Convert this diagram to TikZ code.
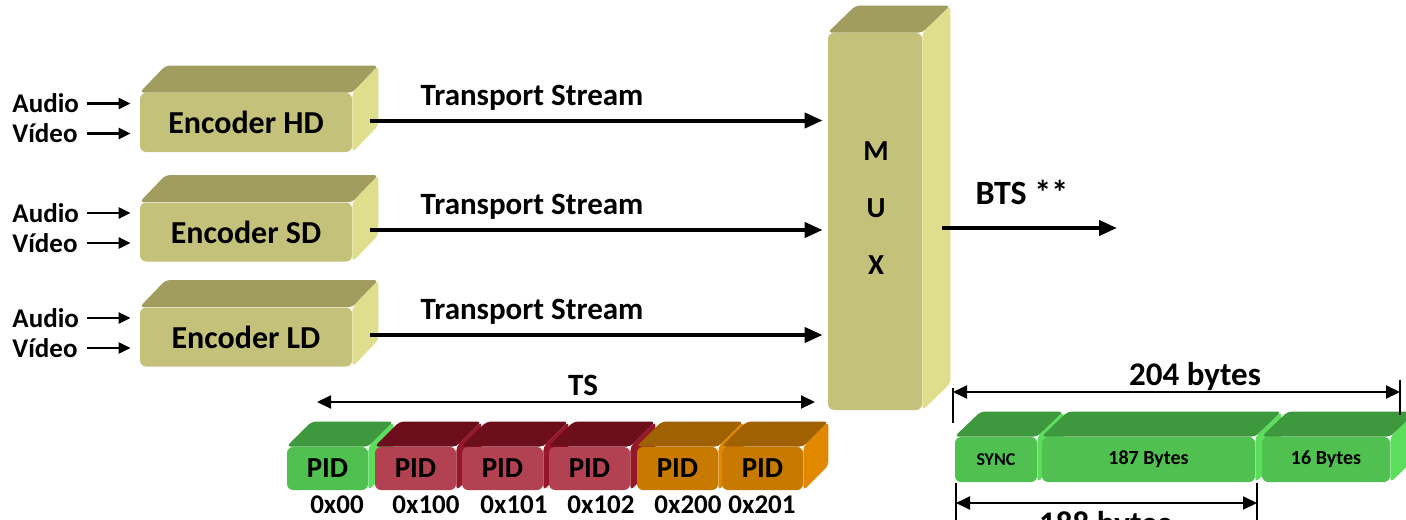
\documentclass[tikz,border=0pt]{standalone}
\usepackage{fontspec}
\setmainfont{Carlito}
\usetikzlibrary{arrows.meta,positioning}

\definecolor{encF}{RGB}{196,194,122}
\definecolor{encT}{RGB}{160,157,95}
\definecolor{encS}{RGB}{223,222,140}
\definecolor{grnF}{RGB}{80,192,80}
\definecolor{grnT}{RGB}{62,152,62}
\definecolor{grnS}{RGB}{92,222,92}
\definecolor{redF}{RGB}{178,66,82}
\definecolor{redT}{RGB}{108,14,28}
\definecolor{redS}{RGB}{150,22,42}
\definecolor{orgF}{RGB}{200,122,0}
\definecolor{orgT}{RGB}{160,98,0}
\definecolor{orgS}{RGB}{226,136,0}

% top and right faces of a box, #1 node, #2 depth, #3 top colour, #4 side colour
\newcommand\sides[4]{%
  \fill[#3, rounded corners=2pt] (#1.north west) -- ([shift={#2}]#1.north west)
    -- ([shift={#2}]#1.north east) -- (#1.north east) -- cycle;
  \fill[#4, rounded corners=2pt] (#1.north east) -- ([shift={#2}]#1.north east)
    -- ([shift={#2}]#1.south east) -- (#1.south east) -- cycle;
}

\tikzset{
  front/.style={rounded corners=3pt, inner sep=0pt},
  encbox/.style={front, fill=encF, minimum width=106pt, minimum height=29.5pt,
    font=\fontsize{16}{19}\bfseries},
  pidbox/.style={front, minimum width=40.5pt, minimum height=21.5pt,
    font=\fontsize{14.5}{16}\bfseries},
  pkbox/.style={front, fill=grnF, minimum height=22.5pt,
    font=\fontsize{10}{12}\bfseries},
  inlbl/.style={inner sep=0pt, anchor=west, font=\fontsize{13.5}{16}\bfseries},
  lbl/.style={inner sep=0pt, font=\fontsize{15.5}{18}\bfseries},
  hexlbl/.style={inner sep=0pt, font=\fontsize{13.5}{15}\bfseries},
  inarrow/.style={line width=1.2pt, -{Triangle[length=6pt,width=5.5pt]}},
  tsarrow/.style={line width=2pt, -{Triangle[length=9pt,width=7.5pt]}},
  dimarrow/.style={line width=1pt, {Triangle[length=7pt,width=6.5pt]}-{Triangle[length=7pt,width=6.5pt]}},
  tick/.style={line width=0.8pt}
}

\begin{document}
\begin{tikzpicture}[x=0.5pt, y=-0.5pt]
  \useasboundingbox (0,0) rectangle (1406,519);

  % multiplexer
  \node[front, fill=encF, minimum width=47pt, minimum height=188.5pt] (mux) at (875,221.5) {};
  \sides{mux}{(28,-27)}{encT}{encS}
  \node[lbl, align=center, font=\fontsize{14.5}{28.5}\bfseries] (muxtxt) at (876,208) {M\\U\\X};

  % encoders with their inputs
  \foreach \n/\t/\y in {hd/HD/122.5, sd/SD/232, ld/LD/337} {
    \node[encbox] (\n) at (246,\y) {Encoder \t};
    \sides{\n}{(26,-27)}{encT}{encS}
    \node[inlbl] (\n a) at (12,\y-19) {Audio};
    \node[inlbl] (\n v) at (12,\y+11) {Vídeo};
    \draw[inarrow] ([xshift=4pt]\n a.east) -- ([xshift=-4.5pt]\n a -| \n.west);
    \draw[inarrow] ([xshift=4.5pt]\n v.east) -- ([xshift=-4.5pt]\n v -| \n.west);
    \draw[tsarrow] ([shift={(18,-2)}]\n.east) -- ([shift={(-5,-2)}]\n.east -| mux.west);
    \node[lbl] (\n ts) at (532,\y-25) {Transport Stream};
  }

  % output
  \coordinate (btsend) at (1117,228);
  \draw[tsarrow] ([xshift=10pt]mux.east |- btsend) -- (btsend);
  \node[lbl, font=\fontsize{17}{20}\bfseries] (bts) at (1022,192) {BTS **};

  % transport stream packets
  \coordinate (tsl) at (317,402);
  \coordinate (tsr) at (815,402);
  \draw[dimarrow] (tsl) -- (tsr);
  \node[lbl] (tstxt) at (583,385) {TS};
  \foreach \i/\x/\c/\h/\lx in {0/327.5/grn/0x00/337, 1/415.5/red/0x100/426,
      2/502.5/red/0x101/514, 3/589.5/red/0x102/601, 4/677.5/org/0x200/688,
      5/762.5/org/0x201/762} {
    \node[pidbox, fill=\c F] (pid\i) at (\x,468.5) {PID};
    \sides{pid\i}{(25,-25)}{\c T}{\c S}
    \node[hexlbl] (hex\i) at (\lx,505) {\h};
  }

  % packet layout
  \node[pkbox, minimum width=41pt, font=\fontsize{9}{11}\bfseries] (sync) at (996,459.5) {SYNC};
  \sides{sync}{(26,-25)}{grnT}{grnS}
  \node[pkbox, minimum width=106.5pt] (pay) at (1148.5,459.5) {187 Bytes};
  \sides{pay}{(26,-25)}{grnT}{grnS}
  \node[pkbox, minimum width=64pt] (fec) at (1326,459.5) {16 Bytes};
  \sides{fec}{(26,-25)}{grnT}{grnS}

  \coordinate (tl) at (953,392);
  \coordinate (tr) at (1400,392);
  \draw[tick] (tl) ++(0,-4) -- ++(0,35);
  \draw[tick] (tr) ++(0,-12) -- ++(0,35);
  \draw[dimarrow] (tl) -- (tr);
  \node[lbl, font=\fontsize{16.5}{19}\bfseries] (fullt) at (1195,377) {204 bytes};

  \coordinate (bl) at (956,503);
  \coordinate (br) at (1257,503);
  \draw[tick] (bl) ++(0,-20) -- ++(0,40);
  \draw[tick] (br) ++(0,-20) -- ++(0,40);
  \draw[dimarrow] (bl) -- (br);
  \node[lbl, anchor=north, font=\fontsize{16.5}{19}\bfseries] (shortt) at (1105,511) {188 bytes};
\end{tikzpicture}
\end{document}
